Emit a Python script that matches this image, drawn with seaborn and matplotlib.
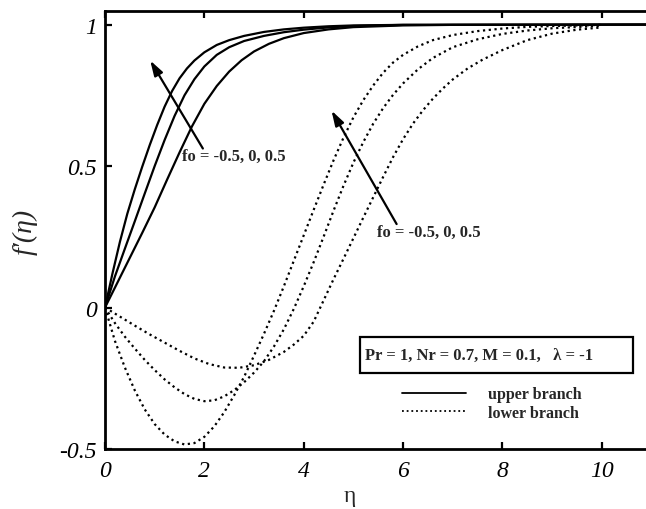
import matplotlib
matplotlib.use("Agg")
import matplotlib.pyplot as plt
import seaborn as sns
import pandas as pd
from matplotlib.lines import Line2D
from matplotlib.patches import Rectangle

# ---- upper branch (solid): f'(eta) for fo = -0.5, 0, 0.5 ----
up_eta_m05 = [0, 0.25, 0.5, 0.75, 1.0, 1.25, 1.5, 1.75, 2.0, 2.25, 2.5, 2.75, 3.0, 3.3, 3.6, 4.0, 4.5, 5.0, 6.0, 7.0, 11]
up_f_m05 = [0, 0.088, 0.176, 0.264, 0.354, 0.452, 0.548, 0.64, 0.72, 0.783, 0.834, 0.874, 0.905, 0.932, 0.952,
            0.97, 0.983, 0.991, 0.997, 0.999, 1.0]

up_eta_0 = [0, 0.2, 0.4, 0.6, 0.8, 1.0, 1.2, 1.4, 1.6, 1.8, 2.0, 2.25, 2.5, 2.8, 3.2, 3.6, 4.0, 4.5, 5.0, 6.0, 11]
up_f_0 = [0, 0.11, 0.208, 0.305, 0.403, 0.5, 0.592, 0.677, 0.75, 0.807, 0.852, 0.893, 0.92, 0.942, 0.96, 0.973,
          0.982, 0.99, 0.995, 0.999, 1.0]

up_eta_05 = [0, 0.15, 0.3, 0.45, 0.6, 0.75, 0.9, 1.05, 1.2, 1.35, 1.5, 1.65, 1.8, 2.0, 2.25, 2.5, 2.8, 3.2, 3.6,
             4.0, 4.5, 5.0, 6.0, 11]
up_f_05 = [0, 0.12, 0.232, 0.332, 0.418, 0.498, 0.574, 0.645, 0.71, 0.765, 0.81, 0.845, 0.873, 0.902, 0.928,
           0.945, 0.96, 0.974, 0.983, 0.989, 0.994, 0.997, 0.999, 1.0]

# ---- lower branch (dotted) ----
lo_eta_m05 = [0, 0.3, 0.6, 0.9, 1.2, 1.5, 1.8, 2.1, 2.4, 2.7, 3.0, 3.3, 3.6, 3.8, 4.0, 4.2, 4.4, 4.6, 4.8, 5.0,
              5.2, 5.4, 5.6, 5.8, 6.0, 6.2, 6.4, 6.6, 6.8, 7.0, 7.3, 7.6, 8.0, 8.5, 9.0, 9.5, 10.0]
lo_f_m05 = [0, -0.032, -0.064, -0.095, -0.124, -0.153, -0.18, -0.2, -0.212, -0.213, -0.204, -0.185, -0.157,
            -0.131, -0.1, -0.05, 0.025, 0.1, 0.172, 0.245, 0.318, 0.39, 0.462, 0.532, 0.595, 0.65, 0.697, 0.738,
            0.774, 0.806, 0.845, 0.876, 0.91, 0.945, 0.968, 0.982, 0.99]

lo_eta_0 = [0, 0.2, 0.4, 0.6, 0.8, 1.0, 1.2, 1.4, 1.6, 1.8, 2.0, 2.2, 2.4, 2.6, 2.8, 3.0, 3.2, 3.4, 3.6, 3.8,
            4.0, 4.2, 4.4, 4.6, 4.8, 5.0, 5.2, 5.4, 5.6, 5.8, 6.0, 6.3, 6.6, 7.0, 7.5, 8.0, 8.5, 9.0, 10.0]
lo_f_0 = [0, -0.055, -0.103, -0.145, -0.185, -0.221, -0.254, -0.282, -0.306, -0.323, -0.331, -0.328, -0.314,
          -0.292, -0.264, -0.23, -0.19, -0.138, -0.077, -0.005, 0.075, 0.16, 0.25, 0.342, 0.43, 0.512, 0.585,
          0.65, 0.705, 0.752, 0.792, 0.842, 0.882, 0.92, 0.948, 0.967, 0.979, 0.987, 0.996]

lo_eta_05 = [0, 0.2, 0.4, 0.6, 0.8, 1.0, 1.2, 1.4, 1.6, 1.8, 2.0, 2.2, 2.4, 2.6, 2.8, 3.0, 3.2, 3.4, 3.6, 3.8,
             4.0, 4.2, 4.4, 4.6, 4.8, 5.0, 5.2, 5.4, 5.6, 5.8, 6.0, 6.3, 6.6, 7.0, 7.5, 8.0, 8.5, 9.0, 10.0]
lo_f_05 = [0, -0.118, -0.212, -0.293, -0.36, -0.412, -0.449, -0.473, -0.484, -0.479, -0.457, -0.42, -0.37,
           -0.31, -0.245, -0.17, -0.093, -0.012, 0.075, 0.165, 0.255, 0.345, 0.434, 0.52, 0.6, 0.672, 0.733,
           0.785, 0.83, 0.866, 0.893, 0.923, 0.945, 0.963, 0.977, 0.986, 0.992, 0.995, 0.999]

x_ticks = [0, 2, 4, 6, 8, 10]
y_ticks = [-0.5, 0, 0.5, 1]
y_tick_labels = ["-0.5", "0", "0.5", "1"]

curves = [
    ("upper", -0.5, up_eta_m05, up_f_m05),
    ("upper", 0.0, up_eta_0, up_f_0),
    ("upper", 0.5, up_eta_05, up_f_05),
    ("lower", -0.5, lo_eta_m05, lo_f_m05),
    ("lower", 0.0, lo_eta_0, lo_f_0),
    ("lower", 0.5, lo_eta_05, lo_f_05),
]
df = pd.concat(
    [pd.DataFrame({"eta": e, "f": f, "branch": b, "fo": fo}) for b, fo, e, f in curves],
    ignore_index=True,
)

sns.set_style("ticks")
plt.rcParams["font.family"] = ["Liberation Serif", "DejaVu Serif"]

fig = plt.figure(figsize=(6.46, 5.10), dpi=100)
ax = fig.add_axes([105 / 646, 60 / 510, 1 - 105 / 646, 438 / 510])

DOT = (0, (1, 1.6))
for (b, fo), g in df.groupby(["branch", "fo"], sort=False):
    sns.lineplot(data=g, x="eta", y="f", ax=ax, color="black", sort=False, estimator=None,
                 linewidth=1.6, linestyle="-" if b == "upper" else DOT, legend=False)

ax.set_xlim(0, 10.89)
ax.set_ylim(-0.5, 1.048)
ax.set_xticks(x_ticks)
ax.set_xticklabels([str(t) for t in x_ticks], fontstyle="italic", fontsize=17)
ax.set_yticks(y_ticks)
ax.set_yticklabels(y_tick_labels, fontstyle="italic", fontsize=17)
ax.tick_params(axis="both", direction="in", length=5, width=1.6, colors="black")
ax.tick_params(axis="x", top=True, bottom=True, pad=8)
ax.tick_params(axis="y", left=True, right=False, pad=6)
for side in ["left", "top", "bottom"]:
    ax.spines[side].set_linewidth(2.0)
    ax.spines[side].set_color("black")
ax.spines["right"].set_visible(False)

ax.set_xlabel("η", fontsize=17)
ax.xaxis.set_label_coords(0.453, -0.082)
ax.set_ylabel("f′(η)", fontsize=20, fontstyle="italic")
ax.yaxis.set_label_coords(-0.124, 0.498)

arrow_kw = dict(arrowstyle="-|>,head_length=0.9,head_width=0.28", color="black", lw=1.6,
                shrinkA=0, shrinkB=0)
ax.annotate("", xy=(0.91, 0.873), xytext=(1.97, 0.562), arrowprops=arrow_kw)
ax.annotate("", xy=(4.56, 0.696), xytext=(5.87, 0.295), arrowprops=arrow_kw)
ax.text(1.55, 0.537, "fo = -0.5, 0, 0.5", fontsize=12, fontweight="bold", va="center", ha="left")
ax.text(5.47, 0.266, "fo = -0.5, 0, 0.5", fontsize=12, fontweight="bold", va="center", ha="left")

# parameter box
ax.add_patch(Rectangle((5.13, -0.232), 5.49, 0.127, facecolor="white", edgecolor="black",
                       linewidth=1.6, zorder=3))
ax.text(5.23, -0.166, "Pr = 1, Nr = 0.7, M = 0.1,   λ = -1", fontsize=12, fontweight="bold",
        va="center", ha="left", zorder=4)

handles = [Line2D([], [], color="black", lw=1.3, linestyle="-"),
           Line2D([], [], color="black", lw=1.3, linestyle=DOT)]
leg = ax.legend(handles, ["upper branch", "lower branch"], loc="center left",
                bbox_to_anchor=(0.549, 0.104), frameon=False, borderpad=0, borderaxespad=0,
                handlelength=4.0, handletextpad=1.4, labelspacing=0.15,
                prop=dict(family="Liberation Serif", weight="bold", size=11.5))

fig.savefig("out.png", dpi=100)
